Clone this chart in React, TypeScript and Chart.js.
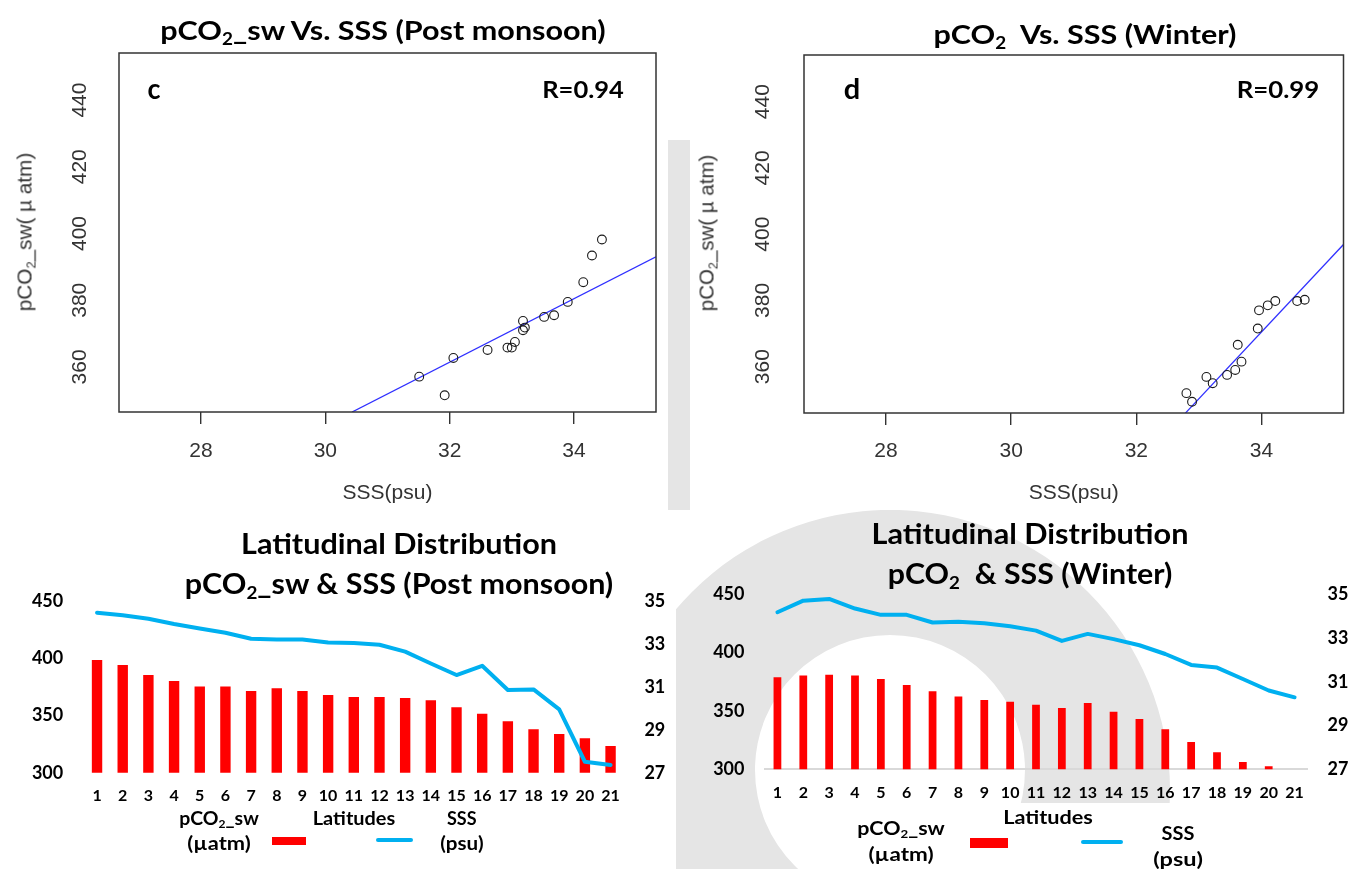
import React, { useEffect, useLayoutEffect, useRef } from "react";
import { Chart, registerables } from "chart.js";

Chart.register(...registerables);

// ---------------- data ----------------
// Panel c : pCO2_sw vs SSS (Post monsoon)
const postSSS = [31.51, 31.92, 32.06, 32.61, 32.93, 33.0, 33.05, 33.18, 33.18, 33.21, 33.52, 33.68, 33.9, 34.15, 34.29, 34.45];
const postPCO2 = [357.1, 351.5, 362.7, 365.1, 365.8, 365.8, 367.5, 373.8, 371.0, 371.8, 375.0, 375.5, 379.5, 385.4, 393.4, 398.2];
const postFitSSS = [30.43, 35.32];
const postFitPCO2 = [346.5, 393.0];

// Panel d : pCO2 vs SSS (Winter)
const winSSS = [32.8, 32.89, 33.12, 33.22, 33.45, 33.58, 33.68, 33.62, 33.94, 33.96, 34.1, 34.22, 34.57, 34.69];
const winPCO2 = [352.0, 349.4, 356.9, 355.0, 357.5, 359.0, 361.5, 366.6, 371.5, 377.0, 378.5, 379.8, 379.8, 380.2];
const winFitSSS = [32.78, 35.31];
const winFitPCO2 = [345.9, 396.9];

// Latitudinal distributions
const latitudes = ["1", "2", "3", "4", "5", "6", "7", "8", "9", "10", "11", "12", "13", "14", "15", "16", "17", "18", "19", "20", "21"];
const latPostPCO2 = [398.4, 394.1, 385.3, 380.1, 375.4, 375.4, 371.4, 373.7, 371.4, 367.9, 366.1, 366.1, 365.2, 363.2, 357.1, 351.6, 344.9, 337.9, 333.8, 330.0, 323.3];
const latPostSSS = [34.45, 34.34, 34.17, 33.93, 33.72, 33.52, 33.24, 33.21, 33.21, 33.07, 33.04, 32.96, 32.64, 32.09, 31.55, 31.98, 30.85, 30.88, 29.95, 27.51, 27.36];
const latWinPCO2 = [378.9, 380.3, 381.1, 380.3, 377.4, 372.3, 366.9, 362.3, 359.4, 358.0, 355.4, 352.6, 356.9, 349.4, 343.1, 334.3, 323.4, 314.6, 306.3, 302.6, null];
const latWinSSS = [34.18, 34.71, 34.79, 34.35, 34.06, 34.06, 33.71, 33.75, 33.68, 33.54, 33.34, 32.87, 33.19, 32.95, 32.67, 32.27, 31.77, 31.65, 31.13, 30.6, 30.29];

// tick labels
const scatterXTicks = [28, 30, 32, 34];
const scatterYTicks = [360, 380, 400, 420, 440];
const pco2Ticks = [300, 350, 400, 450];
const sssTicks = [27, 29, 31, 33, 35];

// ---------------- helpers ----------------
const R_FONT = '"Liberation Sans", Arial, sans-serif';
const C_FONT = 'Lato, "Noto Sans", sans-serif';

const boxPlugin = {
  id: "rBox",
  afterDraw(chart: any) {
    const { ctx, chartArea } = chart;
    const { left, top, right, bottom } = chartArea;
    ctx.save();
    ctx.strokeStyle = "#333333";
    ctx.lineWidth = 1.5;
    ctx.strokeRect(left, top, right - left, bottom - top);
    ctx.restore();
  },
};

type ScatterGeom = {
  padTop: number; padRight: number; axisLeft: number; axisBottom: number;
  xMin: number; xMax: number; yMin: number; yMax: number;
  yTickPad: number; xTickPad: number; titlePad: number;
};

function scatterConfig(xs: number[], ys: number[], fx: number[], fy: number[], g: ScatterGeom): any {
  const rTick = { family: R_FONT, size: 21 };
  return {
    type: "scatter",
    data: {
      datasets: [
        {
          type: "line",
          data: fx.map((x, i) => ({ x, y: fy[i] })),
          borderColor: "#2f2fff",
          borderWidth: 1.3,
          pointRadius: 0,
          tension: 0,
          order: 1,
        },
        {
          type: "scatter",
          data: xs.map((x, i) => ({ x, y: ys[i] })),
          pointRadius: 4.4,
          pointBorderWidth: 1.1,
          borderColor: "#1a1a1a",
          backgroundColor: "rgba(0,0,0,0)",
          order: 0,
        },
      ],
    },
    options: {
      animation: false,
      responsive: false,
      maintainAspectRatio: false,
      layout: { padding: { left: 0, top: g.padTop, right: g.padRight, bottom: 0 } },
      plugins: { legend: { display: false }, tooltip: { enabled: false }, title: { display: false } },
      scales: {
        x: {
          type: "linear",
          position: "bottom",
          min: g.xMin,
          max: g.xMax,
          afterBuildTicks: (s: any) => { s.ticks = scatterXTicks.map((v) => ({ value: v })); },
          afterFit: (s: any) => { s.height = g.axisBottom; },
          grid: { display: true, drawOnChartArea: false, drawTicks: true, tickLength: 12, color: "#333333", lineWidth: 1.4 },
          border: { display: false },
          ticks: { color: "#333333", font: rTick, padding: g.xTickPad, maxRotation: 0, autoSkip: false },
          title: { display: true, text: "SSS(psu)", color: "#333333", font: rTick, padding: { top: 0, bottom: g.titlePad } },
        },
        y: {
          type: "linear",
          position: "left",
          min: g.yMin,
          max: g.yMax,
          afterBuildTicks: (s: any) => { s.ticks = scatterYTicks.map((v) => ({ value: v })); },
          afterFit: (s: any) => { s.width = g.axisLeft; },
          grid: { display: false, drawTicks: false },
          border: { display: false },
          ticks: { color: "#333333", font: rTick, minRotation: 90, maxRotation: 90, crossAlign: "center", padding: g.yTickPad, autoSkip: false },
        },
      },
    },
    plugins: [boxPlugin],
  };
}

type BarGeom = { padTop: number; yW: number; y2W: number; xH: number; barPct: number; showAxis: boolean; xPad: number; yPad: number };

function barConfig(pco2: (number | null)[], sss: number[], g: BarGeom): any {
  const yFont = { family: C_FONT, size: 18, weight: "bold" };
  return {
    type: "bar",
    data: {
      labels: latitudes,
      datasets: [
        {
          type: "line",
          data: sss,
          yAxisID: "y2",
          borderColor: "#00b0f0",
          borderWidth: 4,
          pointRadius: 0,
          tension: 0,
          borderJoinStyle: "round",
          borderCapStyle: "round",
          order: 0,
        },
        {
          type: "bar",
          data: pco2,
          yAxisID: "y",
          backgroundColor: "#ff0000",
          barPercentage: g.barPct,
          categoryPercentage: 1,
          order: 1,
        },
      ],
    },
    options: {
      animation: false,
      responsive: false,
      maintainAspectRatio: false,
      layout: { padding: { left: 0, top: g.padTop, right: 0, bottom: 0 } },
      plugins: { legend: { display: false }, tooltip: { enabled: false } },
      scales: {
        x: {
          type: "category",
          offset: true,
          grid: { display: false, drawTicks: false },
          border: { display: g.showAxis, color: "#d9d9d9", width: 2 },
          ticks: { color: "#000000", font: { family: C_FONT, size: 16, weight: "bold" }, padding: g.xPad, autoSkip: false, maxRotation: 0 },
          afterFit: (s: any) => { s.height = g.xH; },
        },
        y: {
          type: "linear",
          position: "left",
          min: 300,
          max: 450,
          afterBuildTicks: (s: any) => { s.ticks = pco2Ticks.map((v) => ({ value: v })); },
          afterFit: (s: any) => { s.width = g.yW; },
          grid: { display: false, drawTicks: false },
          border: { display: false },
          ticks: { color: "#000000", font: yFont, padding: g.yPad, autoSkip: false },
        },
        y2: {
          type: "linear",
          position: "right",
          min: 27,
          max: 35,
          afterBuildTicks: (s: any) => { s.ticks = sssTicks.map((v) => ({ value: v })); },
          afterFit: (s: any) => { s.width = g.y2W; },
          grid: { display: false, drawTicks: false },
          border: { display: false },
          ticks: { color: "#000000", font: yFont, padding: g.yPad, autoSkip: false },
        },
      },
    },
  };
}

function ChartBox({ left, top, width, height, make }: { left: number; top: number; width: number; height: number; make: () => any }) {
  const ref = useRef<HTMLCanvasElement>(null);
  useEffect(() => {
    const chart = new Chart(ref.current as HTMLCanvasElement, make());
    return () => chart.destroy();
  }, []);
  return (
    <canvas
      ref={ref}
      width={width}
      height={height}
      style={{ position: "absolute", left, top, width, height, display: "block" }}
    />
  );
}

type TxtProps = {
  cx: number; cy: number; w: number; size: number; family: string;
  weight?: number | string; color?: string; rotate?: boolean; children: React.ReactNode;
};

function Txt({ cx, cy, w, size, family, weight = 400, color = "#000", rotate = false, children }: TxtProps) {
  const ref = useRef<HTMLDivElement>(null);
  useLayoutEffect(() => {
    const el = ref.current;
    if (!el) return;
    const fit = () => {
      const nat = el.offsetWidth;
      const k = nat > 0 ? w / nat : 1;
      el.style.transform = (rotate ? "rotate(-90deg) " : "") + `scaleX(${k}) translate(-50%, -50%)`;
    };
    fit();
    const f: any = (document as any).fonts;
    if (f && f.ready) f.ready.then(fit);
  }, [w, rotate]);
  return (
    <div
      ref={ref}
      style={{
        position: "absolute", left: cx, top: cy, transformOrigin: "0 0", whiteSpace: "pre",
        fontFamily: family, fontSize: size, fontWeight: weight as any, color, lineHeight: 1,
      }}
    >
      {children}
    </div>
  );
}

const Sub = ({ children }: { children: React.ReactNode }) => (
  <sub style={{ fontSize: "0.62em", verticalAlign: "-0.28em", lineHeight: 0 }}>{children}</sub>
);

export default function App() {
  useLayoutEffect(() => {
    document.body.style.margin = "0";
    document.body.style.overflow = "hidden";
  }, []);

  const wm = "#e5e5e5";

  return (
    <div style={{ position: "absolute", left: 0, top: 0, width: 1349, height: 869, background: "#ffffff", overflow: "hidden" }}>
      {/* faint background watermark */}
      <svg width={1349} height={869} style={{ position: "absolute", left: 0, top: 0 }}>
        <defs>
          <clipPath id="wmClip">
            <rect x={676} y={510} width={673} height={359} />
          </clipPath>
        </defs>
        <rect x={668} y={140} width={22} height={370} fill={wm} />
        <path
          clipPath="url(#wmClip)"
          fillRule="evenodd"
          fill={wm}
          d="M 610 790 a 280 280 0 1 0 560 0 a 280 280 0 1 0 -560 0 Z M 755 770 a 135 135 0 1 0 270 0 a 135 135 0 1 0 -270 0 Z"
        />
        <rect x={848} y={803} width={501} height={66} fill="#ffffff" />
      </svg>

      {/* charts */}
      <ChartBox left={0} top={0} width={680} height={515}
        make={() => scatterConfig(postSSS, postPCO2, postFitSSS, postFitPCO2, {
          padTop: 53, padRight: 24, axisLeft: 119, axisBottom: 103,
          xMin: 26.68, xMax: 35.32, yMin: 346.5, yMax: 454.1,
          yTickPad: 21.5, xTickPad: 15, titlePad: 9,
        })} />
      <ChartBox left={680} top={0} width={669} height={515}
        make={() => scatterConfig(winSSS, winPCO2, winFitSSS, winFitPCO2, {
          padTop: 55, padRight: 5, axisLeft: 124, axisBottom: 102,
          xMin: 26.69, xMax: 35.31, yMin: 346.0, yMax: 454.1,
          yTickPad: 22.8, xTickPad: 14, titlePad: 9,
        })} />
      <ChartBox left={0} top={500} width={680} height={369}
        make={() => barConfig(latPostPCO2, latPostSSS, {
          padTop: 101, yW: 84.2, y2W: 56.6, xH: 96.3, barPct: 0.405, showAxis: false, xPad: 14, yPad: 21,
        })} />
      <ChartBox left={680} top={500} width={669} height={369}
        make={() => barConfig(latWinPCO2, latWinSSS, {
          padTop: 94.3, yW: 84.5, y2W: 41.5, xH: 99.7, barPct: 0.3, showAxis: true, xPad: 14, yPad: 20,
        })} />

      {/* scatter titles & annotations */}
      <Txt cx={383} cy={30} w={445} size={26} family={C_FONT} weight={700}>pCO<Sub>2</Sub>_sw Vs. SSS (Post monsoon)</Txt>
      <Txt cx={1084.5} cy={33.5} w={303} size={26} family={C_FONT} weight={700}>pCO<Sub>2</Sub>  Vs. SSS (Winter)</Txt>
      <Txt cx={154} cy={87} w={13} size={29} family={C_FONT} weight={700}>c</Txt>
      <Txt cx={583} cy={89} w={82} size={23} family={C_FONT} weight={700}>R=0.94</Txt>
      <Txt cx={852} cy={87} w={16} size={29} family={C_FONT} weight={700}>d</Txt>
      <Txt cx={1277.5} cy={89} w={83} size={23} family={C_FONT} weight={700}>R=0.99</Txt>
      <Txt cx={24} cy={232} w={159} size={21} family={R_FONT} color="#333333" rotate>pCO<Sub>2</Sub>_sw( µ atm)</Txt>
      <Txt cx={706} cy={233} w={157} size={21} family={R_FONT} color="#333333" rotate>pCO<Sub>2</Sub>_sw( µ atm)</Txt>

      {/* bar chart titles */}
      <Txt cx={398.5} cy={542} w={316} size={29} family={C_FONT} weight={700}>Latitudinal Distribution</Txt>
      <Txt cx={399} cy={582} w={429} size={29} family={C_FONT} weight={700}>pCO<Sub>2</Sub>_sw &amp; SSS (Post monsoon)</Txt>
      <Txt cx={1030} cy={531.7} w={317} size={29} family={C_FONT} weight={700}>Latitudinal Distribution</Txt>
      <Txt cx={1030} cy={572} w={284.5} size={29} family={C_FONT} weight={700}>pCO<Sub>2</Sub>  &amp; SSS (Winter)</Txt>

      {/* legend: post monsoon */}
      <Txt cx={218.8} cy={817.5} w={80} size={18} family={C_FONT} weight={700}>pCO<Sub>2</Sub>_sw</Txt>
      <Txt cx={218.8} cy={843} w={63} size={18} family={C_FONT} weight={700}>(µatm)</Txt>
      <Txt cx={353.9} cy={818} w={83} size={18} family={C_FONT} weight={700}>Latitudes</Txt>
      <Txt cx={461.8} cy={817.5} w={30} size={18} family={C_FONT} weight={700}>SSS</Txt>
      <Txt cx={461.8} cy={843} w={43.5} size={18} family={C_FONT} weight={700}>(psu)</Txt>
      <div style={{ position: "absolute", left: 271.5, top: 837.3, width: 34.7, height: 8, background: "#ff0000" }} />
      <div style={{ position: "absolute", left: 375.5, top: 838, width: 37.3, height: 4, background: "#00b0f0", borderRadius: 2 }} />

      {/* legend: winter */}
      <Txt cx={901} cy={826.7} w={88} size={19} family={C_FONT} weight={700}>pCO<Sub>2</Sub>_sw</Txt>
      <Txt cx={901.4} cy={853} w={65} size={19} family={C_FONT} weight={700}>(µatm)</Txt>
      <Txt cx={1048} cy={816} w={90} size={19} family={C_FONT} weight={700}>Latitudes</Txt>
      <Txt cx={1178} cy={831.7} w={32.6} size={19} family={C_FONT} weight={700}>SSS</Txt>
      <Txt cx={1178} cy={858} w={49.5} size={19} family={C_FONT} weight={700}>(psu)</Txt>
      <div style={{ position: "absolute", left: 970, top: 838, width: 38, height: 9.7, background: "#ff0000" }} />
      <div style={{ position: "absolute", left: 1081, top: 840, width: 42, height: 4, background: "#00b0f0", borderRadius: 2 }} />
    </div>
  );
}
